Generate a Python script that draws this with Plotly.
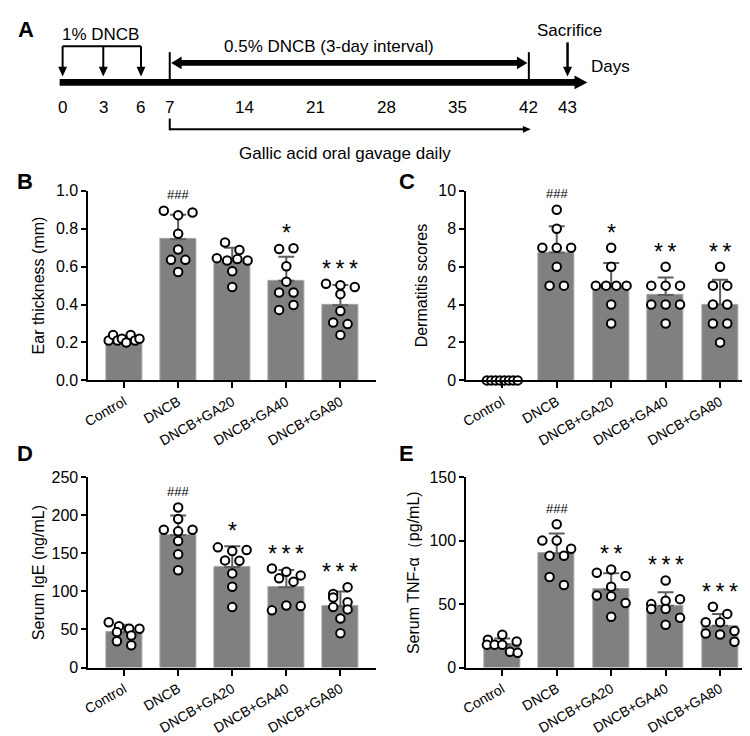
import numpy as np
import plotly.graph_objects as go

W, H = 750, 736
FONT = "Liberation Sans, Arial, Helvetica, sans-serif"

# ---------------- data ----------------
groups = ["Control", "DNCB", "DNCB+GA20", "DNCB+GA40", "DNCB+GA80"]

ear_control = [0.21, 0.24, 0.21, 0.22, 0.20, 0.24, 0.21, 0.22]
ear_dncb = [0.895, 0.872, 0.886, 0.774, 0.691, 0.636, 0.636, 0.572]
ear_ga20 = [0.728, 0.688, 0.645, 0.633, 0.640, 0.633, 0.576, 0.493]
ear_ga40 = [0.693, 0.697, 0.602, 0.521, 0.464, 0.464, 0.372, 0.398]
ear_ga80 = [0.510, 0.502, 0.493, 0.455, 0.366, 0.305, 0.297, 0.240]
ear_sig = ["", "###", "", "*", "***"]

derm_control = [0, 0, 0, 0, 0, 0, 0, 0]
derm_dncb = [9, 8, 7, 7, 7, 6, 5, 5]
derm_ga20 = [7, 6, 5, 5, 5, 5, 4, 3]
derm_ga40 = [6, 5, 5, 5, 4, 4, 4, 3]
derm_ga80 = [6, 5, 5, 4, 4, 3, 3, 2]
derm_sig = ["", "###", "*", "**", "**"]

ige_control = [59.5, 54.3, 50.9, 46.6, 50.9, 42.2, 34.5, 29.3]
ige_dncb = [210.1, 195.1, 181.0, 178.8, 181.0, 166.0, 148.8, 127.8]
ige_ga20 = [157.8, 153.1, 154.4, 140.7, 140.3, 123.6, 106.0, 79.4]
ige_ga40 = [130.0, 125.7, 121.0, 117.1, 112.8, 75.1, 81.6, 80.7]
ige_ga80 = [96.6, 105.6, 91.9, 85.9, 79.4, 76.4, 64.4, 45.1]
ige_sig = ["", "###", "*", "***", "***"]

tnf_control = [21.9, 25.8, 20.6, 18.0, 18.0, 18.0, 12.4, 11.6]
tnf_dncb = [112.9, 100.0, 100.0, 93.6, 88.1, 88.1, 71.4, 65.0]
tnf_ga20 = [74.7, 77.3, 72.2, 63.7, 56.7, 56.2, 50.8, 40.0]
tnf_ga40 = [68.6, 50.0, 52.6, 53.9, 33.8, 46.1, 46.1, 39.2]
tnf_ga80 = [47.9, 42.3, 35.8, 35.8, 28.9, 26.8, 26.0, 20.4]
tnf_sig = ["", "###", "**", "***", "***"]

timeline_days = [0, 3, 6, 7, 14, 21, 28, 35, 42, 43]
first_dose_days = [0, 3, 6]
boost_period = [7, 42]
gavage_period = [7, 42]
sacrifice_day = 43

# ---------------- layout helpers ----------------
def X(px):
    return px / W

def Y(py):
    return 1 - py / H

# schematic (non-scaled) positions of the timeline day marks, in pixels
day_px = [49, 90, 128, 157, 232, 304, 376, 447, 519, 558]
dpos = dict(zip(timeline_days, day_px))

panels = [
    dict(letter="B", series=[ear_control, ear_dncb, ear_ga20, ear_ga40, ear_ga80], sig=ear_sig,
         ytitle="Ear thickness (mm)", yrange=[0, 1.0], dtick=0.2, fmt=".1f",
         box=(75, 365, 179, 373), letter_xy=(11, 169), title_x=25),
    dict(letter="C", series=[derm_control, derm_dncb, derm_ga20, derm_ga40, derm_ga80], sig=derm_sig,
         ytitle="Dermatitis scores", yrange=[0, 10], dtick=2, fmt="d",
         box=(456, 748, 179, 373), letter_xy=(396, 169), title_x=411),
    dict(letter="D", series=[ige_control, ige_dncb, ige_ga20, ige_ga40, ige_ga80], sig=ige_sig,
         ytitle="Serum IgE (ng/mL)", yrange=[0, 250], dtick=50, fmt="d",
         box=(75, 365, 472, 667), letter_xy=(11, 448), title_x=25),
    dict(letter="E", series=[tnf_control, tnf_dncb, tnf_ga20, tnf_ga40, tnf_ga80], sig=tnf_sig,
         ytitle="Serum TNF-α（pg/mL)", yrange=[0, 150], dtick=50, fmt="d",
         box=(456, 748, 472, 667), letter_xy=(396, 448), title_x=403),
]

XR = [-0.66, 4.66]
BAR_W = 0.66


def row_offsets(vals, px_per_unit, d=9.0):
    """GraphPad-like scatter: group points into rows and spread each row."""
    vals = np.asarray(vals, dtype=float)
    order = sorted(range(len(vals)), key=lambda i: -vals[i])
    rows = []
    for i in order:
        if rows and (vals[rows[-1][0]] - vals[i]) * px_per_unit < d:
            rows[-1].append(i)
        else:
            rows.append([i])
    offs = np.zeros(len(vals))
    for r in rows:
        r = sorted(r)
        n = len(r)
        if n == 1:
            continue
        s = min(14.5, 31.0 / (n - 1))
        for k, i in enumerate(r):
            offs[i] = (k - (n - 1) / 2) * s
    return offs


fig = go.Figure()
annotations = []
shapes = []
layout_axes = {}

for pi, p in enumerate(panels):
    ax = "" if pi == 0 else str(pi + 1)
    xl, xr_, yt, yb = p["box"]
    layout_axes["xaxis" + ax] = dict(
        domain=[X(xl), X(xr_)], range=XR, anchor="y" + ax,
        tickmode="array", tickvals=list(range(len(groups))), ticktext=groups,
        tickangle=-30, ticks="outside", ticklen=6, tickwidth=2, tickcolor="black",
        showline=True, linewidth=2, linecolor="black", showgrid=False, zeroline=False,
        tickfont=dict(family=FONT, size=14, color="black"), fixedrange=True,
    )
    layout_axes["yaxis" + ax] = dict(
        domain=[Y(yb), Y(yt)], range=p["yrange"], anchor="x" + ax,
        dtick=p["dtick"], tick0=0, tickformat=p["fmt"], ticks="outside", ticklen=5,
        tickwidth=2, tickcolor="black", showline=True, linewidth=2, linecolor="black",
        showgrid=False, zeroline=False, tickfont=dict(family=FONT, size=16, color="black"),
        fixedrange=True,
    )
    span = p["yrange"][1] - p["yrange"][0]
    px_per_unit = (yb - yt) / span
    px_per_cat = (xr_ - xl) / (XR[1] - XR[0])

    means = [float(np.mean(s)) for s in p["series"]]
    sds = [float(np.std(s, ddof=1)) for s in p["series"]]
    fig.add_trace(go.Bar(
        x=list(range(len(groups))), y=means, width=BAR_W,
        marker=dict(color="#808080", line=dict(color="#a6a6a6", width=1)),
        error_y=dict(type="data", array=sds, arrayminus=[0] * len(sds), symmetric=False,
                     color="#5e5e5e", thickness=2, width=8),
        xaxis="x" + ax, yaxis="y" + ax, showlegend=False, hoverinfo="skip",
    ))
    for gi, s in enumerate(p["series"]):
        offs = row_offsets(s, px_per_unit) / px_per_cat
        fig.add_trace(go.Scatter(
            x=gi + offs, y=s, mode="markers", cliponaxis=False,
            marker=dict(symbol="circle", size=8.5, color="white", line=dict(color="black", width=2)),
            xaxis="x" + ax, yaxis="y" + ax, showlegend=False, hoverinfo="skip",
        ))
        lab = p["sig"][gi]
        if lab:
            top = max(max(s), means[gi] + sds[gi])
            if lab.startswith("#"):
                txt, size, off = lab, 13, 0.035
            else:
                txt, size, off = "\u2009".join(lab), 23, 0.0
            annotations.append(dict(
                x=gi, y=top + off * span, xref="x" + ax, yref="y" + ax,
                text=txt, showarrow=False, xanchor="center", yanchor="bottom",
                font=dict(family=FONT, size=size, color="black"),
            ))
    # panel letter
    lx, ly = p["letter_xy"]
    annotations.append(dict(x=X(lx), y=Y(ly), xref="paper", yref="paper", text="<b>%s</b>" % p["letter"],
                            showarrow=False, xanchor="center", yanchor="middle",
                            font=dict(family=FONT, size=22, color="black")))
    # y title
    annotations.append(dict(x=X(p["title_x"]), y=Y((yt + yb) / 2), xref="paper", yref="paper",
                            text=p["ytitle"], textangle=-90, showarrow=False,
                            xanchor="center", yanchor="middle",
                            font=dict(family=FONT, size=16, color="black")))

# ---------------- panel A: timeline schematic ----------------
def line(x0, y0, x1, y1, w=2):
    shapes.append(dict(type="line", xref="paper", yref="paper", x0=X(x0), y0=Y(y0), x1=X(x1), y1=Y(y1),
                       line=dict(color="black", width=w)))

def tri(pts):
    path = "M " + " L ".join("%f,%f" % (X(a), Y(b)) for a, b in pts) + " Z"
    shapes.append(dict(type="path", xref="paper", yref="paper", path=path,
                       fillcolor="black", line=dict(color="black", width=0)))

def text(x, y, s, size=17, bold=False, anchor="center"):
    annotations.append(dict(x=X(x), y=Y(y), xref="paper", yref="paper",
                            text=("<b>%s</b>" % s) if bold else s, showarrow=False,
                            xanchor=anchor, yanchor="middle",
                            font=dict(family=FONT, size=size, color="black")))

BAR_Y = 68
# main time axis
shapes.append(dict(type="rect", xref="paper", yref="paper", x0=X(46), x1=X(567), y0=Y(BAR_Y - 3.5),
                   y1=Y(BAR_Y + 3.5), fillcolor="black", line=dict(width=0)))
tri([(565, BAR_Y - 7), (578, BAR_Y), (565, BAR_Y + 7)])
for d, px in zip(timeline_days, day_px):
    text(px, 94, str(d))
text(580, 52, "Days", anchor="left")
text(12, 14, "A", size=22, bold=True)

# first sensitisation (1% DNCB)
BR_Y = 31
line(dpos[first_dose_days[0]], BR_Y, dpos[first_dose_days[-1]], BR_Y)
for d in first_dose_days:
    line(dpos[d], BR_Y, dpos[d], 53)
    tri([(dpos[d] - 4.5, 52), (dpos[d] + 4.5, 52), (dpos[d], 62)])
text((dpos[0] + dpos[6]) / 2 - 1, 19, "1% DNCB")

# 0.5% DNCB challenge
a, b = dpos[boost_period[0]], dpos[boost_period[1]]
line(a, 37, a, BAR_Y)
line(b, 37, b, BAR_Y)
DA_Y = 48
shapes.append(dict(type="rect", xref="paper", yref="paper", x0=X(a + 10), x1=X(b - 10), y0=Y(DA_Y - 3),
                   y1=Y(DA_Y + 3), fillcolor="black", line=dict(width=0)))
tri([(a + 1.5, DA_Y), (a + 12, DA_Y - 6.5), (a + 12, DA_Y + 6.5)])
tri([(b - 1.5, DA_Y), (b - 12, DA_Y - 6.5), (b - 12, DA_Y + 6.5)])
text((a + b) / 2 - 20, 31, "0.5% DNCB (3-day interval)")

# sacrifice
s = dpos[sacrifice_day]
line(s, 27, s, 54, w=2.5)
tri([(s - 4.5, 52), (s + 4.5, 52), (s, 62)])
text(s + 2, 15, "Sacrifice")

# gavage
g0, g1 = dpos[gavage_period[0]], dpos[gavage_period[1]]
line(g0, 105, g0, 117)
line(g0, 116, g1 - 4, 116)
tri([(g1 - 6, 112.5), (g1 + 2, 116), (g1 - 6, 119.5)])
text((g0 + g1) / 2 - 4, 141, "Gallic acid oral gavage daily")

fig.update_layout(
    width=W, height=H, autosize=False,
    margin=dict(l=0, r=0, t=0, b=0),
    paper_bgcolor="white", plot_bgcolor="white",
    bargap=0, showlegend=False,
    annotations=annotations, shapes=shapes,
    font=dict(family=FONT, color="black"),
    **layout_axes,
)

fig.write_html("out.html")
